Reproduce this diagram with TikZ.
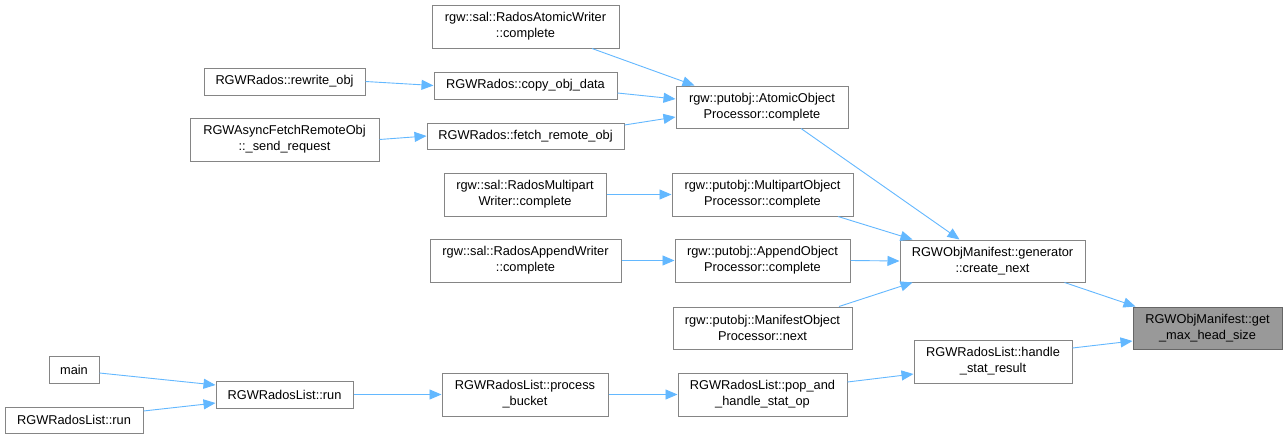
\documentclass[tikz,border=0pt]{standalone}
\usepackage{fontspec}
\setmainfont{Liberation Sans}
\usetikzlibrary{arrows.meta,calc}
\definecolor{edgeblue}{HTML}{63B8FF}
\definecolor{boxborder}{HTML}{858585}
\definecolor{focusfill}{HTML}{999999}
\definecolor{focusborder}{HTML}{666666}
\begin{document}
\begin{tikzpicture}[x=1pt,y=-1pt,
  box/.style={draw=boxborder, fill=white, line width=1pt, inner sep=0pt, align=center,
    font=\fontsize{12.8}{16}\selectfont},
  focus/.style={box, draw=focusborder, fill=focusfill},
  call/.style={draw=edgeblue, line width=0.9pt, -{Triangle[length=12pt,width=10pt]}}]
\useasboundingbox[fill=white] (0,0) rectangle (1287,439);

\node[box, minimum width=187pt, minimum height=43pt] (aw) at (525.5,26.5) {rgw::sal::RadosAtomicWriter\\::complete};
\node[box, minimum width=161pt, minimum height=27pt] (rw) at (284.5,81.5) {RGWRados::rewrite\_obj};
\node[box, minimum width=183pt, minimum height=27pt] (copy) at (525.5,85.5) {RGWRados::copy\_obj\_data};
\node[box, minimum width=172pt, minimum height=42pt] (aop) at (762,107) {rgw::putobj::AtomicObject\\Processor::complete};
\node[box, minimum width=189pt, minimum height=43pt] (asr) at (284.5,139.5) {RGWAsyncFetchRemoteObj\\::\_send\_request};
\node[box, minimum width=197pt, minimum height=26pt] (frm) at (525.5,136) {RGWRados::fetch\_remote\_obj};
\node[box, minimum width=162pt, minimum height=43pt] (rmw) at (525,194.5) {rgw::sal::RadosMultipart\\Writer::complete};
\node[box, minimum width=181pt, minimum height=43pt] (mop) at (762.5,194.5) {rgw::putobj::MultipartObject\\Processor::complete};
\node[box, minimum width=191pt, minimum height=43pt] (raw) at (525.5,260.5) {rgw::sal::RadosAppendWriter\\::complete};
\node[box, minimum width=175pt, minimum height=43pt] (apop) at (762.5,260.5) {rgw::putobj::AppendObject\\Processor::complete};
\node[box, minimum width=185pt, minimum height=42pt] (cn) at (992.5,261) {RGWObjManifest::generator\\::create\_next};
\node[box, minimum width=179pt, minimum height=42pt] (mnop) at (762.5,328) {rgw::putobj::ManifestObject\\Processor::next};
\node[focus, minimum width=149pt, minimum height=42pt] (gmhs) at (1207.5,328) {RGWObjManifest::get\\\_max\_head\_size};
\node[box, minimum width=158pt, minimum height=43pt] (hsr) at (993,361.5) {RGWRadosList::handle\\\_stat\_result};
\node[box, minimum width=50pt, minimum height=27pt] (main) at (74,369.5) {main};
\node[box, minimum width=137pt, minimum height=27pt] (run) at (284.5,394.5) {RGWRadosList::run};
\node[box, minimum width=138pt, minimum height=26pt] (runl) at (74,420) {RGWRadosList::run};
\node[box, minimum width=166pt, minimum height=43pt] (pb) at (525,394.5) {RGWRadosList::process\\\_bucket};
\node[box, minimum width=169pt, minimum height=43pt] (pop) at (762.5,394.5) {RGWRadosList::pop\_and\\\_handle\_stat\_op};

\draw[call] (rw.east) -- (copy.west);
\draw[call] (asr.east) -- (frm.west);
\draw[call] ($(aw.south)+(66.5,0)$) -- ($(aop.north west)+(19,0)$);
\draw[call] ($(copy.east)+(0,7.5)$) -- ($(aop.west)+(0,-8)$);
\draw[call] ($(frm.east)+(0,-11)$) -- ($(aop.west)+(0,10)$);
\draw[call] ($(aop.south)+(39,0)$) -- ($(cn.north west)+(60,0)$);
\draw[call] (rmw.east) -- (mop.west);
\draw[call] ($(mop.south)+(75.5,0)$) -- ($(cn.north west)+(13,0)$);
\draw[call] (raw.east) -- (apop.west);
\draw[call] (apop.east) -- (cn.west);
\draw[call] ($(mnop.north)+(76.5,0)$) -- ($(cn.south west)+(13,0)$);
\draw[call] ($(cn.south east)+(-21,0)$) -- ($(gmhs.north west)+(3,0)$);
\draw[call] ($(hsr.east)+(0,-13.5)$) -- ($(gmhs.west)+(0,13)$);
\draw[call] ($(main.east)+(0,3.5)$) -- ($(run.west)+(0,-9.5)$);
\draw[call] ($(runl.east)+(0,-9)$) -- ($(run.west)+(0,8.5)$);
\draw[call] (run.east) -- (pb.west);
\draw[call] (pb.east) -- (pop.west);
\draw[call] ($(pop.east)+(0,-12.5)$) -- ($(hsr.west)+(0,12.5)$);
\end{tikzpicture}
\end{document}
